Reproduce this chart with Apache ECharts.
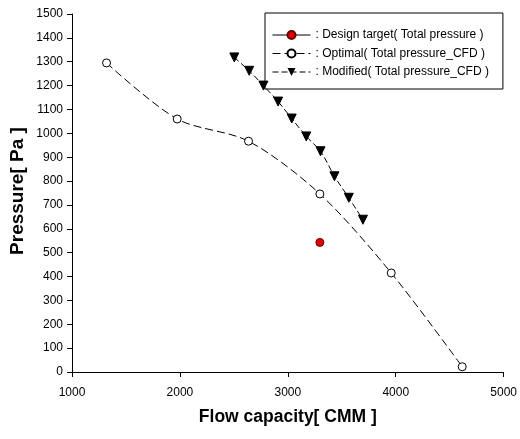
<!DOCTYPE html>
<html><head><meta charset="utf-8">
<script src="https://cdn.jsdelivr.net/npm/echarts@6/dist/echarts.min.js"></script>
<style>html,body{margin:0;padding:0;background:#fff}#c{width:520px;height:439px}</style>
</head><body><div id="c"></div>
<script>
const designX = [3297];
const designY = [543];
const optimalX = [1320, 1975, 2636, 3297, 3958, 4616];
const optimalY = [1295, 1060, 967, 746, 415, 22];
const modifiedX = [2504, 2642, 2774, 2910, 3036, 3171, 3303, 3432, 3565, 3696];
const modifiedY = [1318, 1262, 1200, 1133, 1062, 987, 925, 820, 730, 638];
const seriesNames = [': Design target( Total pressure )', ': Optimal( Total pressure_CFD )', ': Modified( Total pressure_CFD )'];
const xName = 'Flow capacity[ CMM ]';
const yName = 'Pressure[ Pa ]';
const xTicks = [1000, 5000, 1000];
const yTicks = [0, 1500, 100];

const pairs = (xs, ys) => xs.map((x, i) => [x, ys[i]]);
const chart = echarts.init(document.getElementById('c'), null, {renderer: 'canvas'});
const font = 'Liberation Sans, Arial, sans-serif';
chart.setOption({
  animation: false,
  textStyle: {fontFamily: font},
  grid: {left: 72, right: 14, top: 14, bottom: 67, containLabel: false},
  graphic: [{
    type: 'text', x: 18, y: 191, rotation: Math.PI / 2,
    style: {text: yName, fontFamily: font, fontWeight: 'bold', fontSize: 19, fill: '#000',
      align: 'center', verticalAlign: 'middle'}
  }],
  legend: {
    orient: 'vertical', left: 265, top: 13,
    padding: [16, 14, 11, 7],
    itemGap: 6.5, itemWidth: 38, itemHeight: 10,
    borderColor: '#000', borderWidth: 1,
    lineStyle: {width: 1},
    textStyle: {fontFamily: font, fontSize: 12, color: '#000'},
    data: seriesNames
  },
  xAxis: {
    type: 'value', min: xTicks[0], max: xTicks[1], interval: xTicks[2],
    name: xName, nameLocation: 'middle', nameGap: 36, nameMoveOverlap: false,
    nameTextStyle: {fontFamily: font, fontWeight: 'bold', fontSize: 17.5, color: '#000'},
    axisLine: {lineStyle: {color: '#000', width: 1}},
    axisTick: {length: 5, lineStyle: {color: '#000'}},
    axisLabel: {color: '#000', fontSize: 12, margin: 15, formatter: v => String(v)},
    splitLine: {show: false}
  },
  yAxis: {
    type: 'value', min: yTicks[0], max: yTicks[1], interval: yTicks[2],
    axisLine: {show: true, lineStyle: {color: '#000', width: 1}},
    axisTick: {show: true, length: 5, lineStyle: {color: '#000'}},
    axisLabel: {color: '#000', fontSize: 12, margin: 9, formatter: v => String(v)},
    splitLine: {show: false}
  },
  series: [
    {
      name: seriesNames[0], type: 'line', data: pairs(designX, designY),
      symbol: 'circle', symbolSize: 8,
      itemStyle: {color: '#e00000', borderColor: '#600', borderWidth: 1},
      lineStyle: {color: '#000', width: 1}
    },
    {
      name: seriesNames[1], type: 'line', data: pairs(optimalX, optimalY),
      smooth: 0.3, symbol: 'circle', symbolSize: 8,
      itemStyle: {color: '#fff', borderColor: '#000', borderWidth: 1},
      lineStyle: {color: '#000', width: 1, type: [8, 4]}
    },
    {
      name: seriesNames[2], type: 'line', data: pairs(modifiedX, modifiedY),
      smooth: 0.3, symbol: 'triangle', symbolRotate: 180, symbolSize: 9,
      itemStyle: {color: '#000', borderColor: '#000'},
      lineStyle: {color: '#000', width: 1, type: [6, 3]}
    }
  ]
});
</script></body></html>
